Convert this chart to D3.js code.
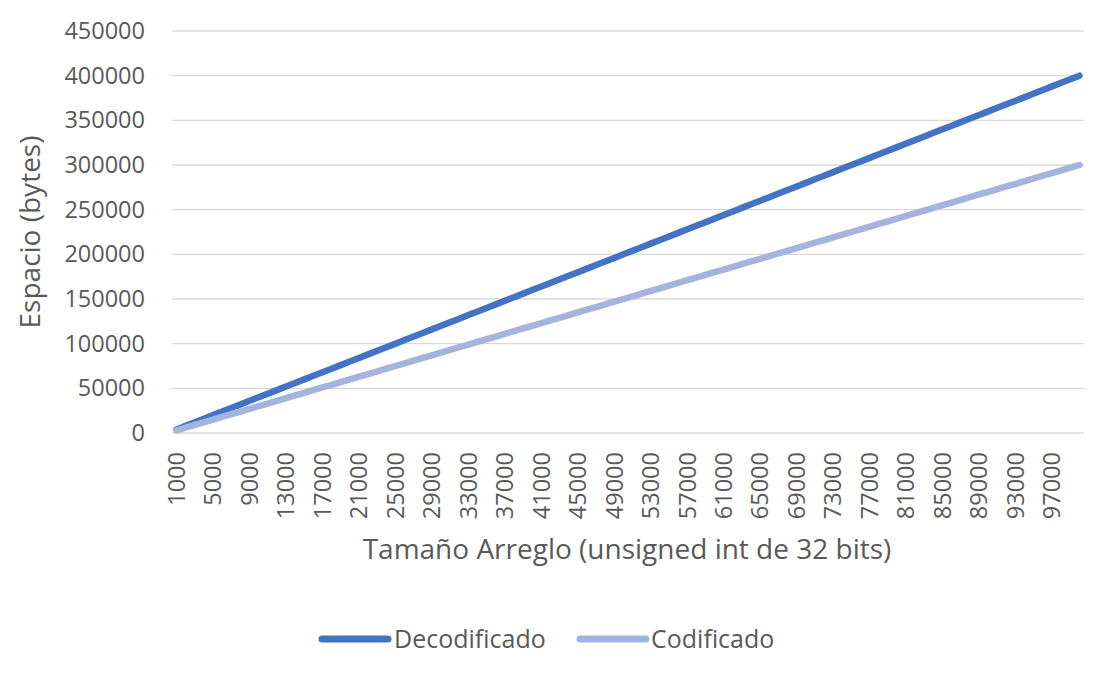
<!DOCTYPE html>
<html><head><meta charset="utf-8">
<script src="https://cdn.jsdelivr.net/npm/d3@7"></script>
<style>
html,body{margin:0;padding:0;background:#fff;}
svg{display:block;font-family:"Open Sans",sans-serif;}
</style></head>
<body>
<svg id="chart" width="1109" height="676"></svg>
<script>
const categories = [1000,2000,3000,4000,5000,6000,7000,8000,9000,10000,11000,12000,13000,14000,15000,16000,17000,18000,19000,20000,21000,22000,23000,24000,25000,26000,27000,28000,29000,30000,31000,32000,33000,34000,35000,36000,37000,38000,39000,40000,41000,42000,43000,44000,45000,46000,47000,48000,49000,50000,51000,52000,53000,54000,55000,56000,57000,58000,59000,60000,61000,62000,63000,64000,65000,66000,67000,68000,69000,70000,71000,72000,73000,74000,75000,76000,77000,78000,79000,80000,81000,82000,83000,84000,85000,86000,87000,88000,89000,90000,91000,92000,93000,94000,95000,96000,97000,98000,99000,100000];
const decodificado = [4000,8000,12000,16000,20000,24000,28000,32000,36000,40000,44000,48000,52000,56000,60000,64000,68000,72000,76000,80000,84000,88000,92000,96000,100000,104000,108000,112000,116000,120000,124000,128000,132000,136000,140000,144000,148000,152000,156000,160000,164000,168000,172000,176000,180000,184000,188000,192000,196000,200000,204000,208000,212000,216000,220000,224000,228000,232000,236000,240000,244000,248000,252000,256000,260000,264000,268000,272000,276000,280000,284000,288000,292000,296000,300000,304000,308000,312000,316000,320000,324000,328000,332000,336000,340000,344000,348000,352000,356000,360000,364000,368000,372000,376000,380000,384000,388000,392000,396000,400000];
const codificado = [3000,6000,9000,12000,15000,18000,21000,24000,27000,30000,33000,36000,39000,42000,45000,48000,51000,54000,57000,60000,63000,66000,69000,72000,75000,78000,81000,84000,87000,90000,93000,96000,99000,102000,105000,108000,111000,114000,117000,120000,123000,126000,129000,132000,135000,138000,141000,144000,147000,150000,153000,156000,159000,162000,165000,168000,171000,174000,177000,180000,183000,186000,189000,192000,195000,198000,201000,204000,207000,210000,213000,216000,219000,222000,225000,228000,231000,234000,237000,240000,243000,246000,249000,252000,255000,258000,261000,264000,267000,270000,273000,276000,279000,282000,285000,288000,291000,294000,297000,300000];
const xTickLabels = [1000,5000,9000,13000,17000,21000,25000,29000,33000,37000,41000,45000,49000,53000,57000,61000,65000,69000,73000,77000,81000,85000,89000,93000,97000];
const yTicks = [0,50000,100000,150000,200000,250000,300000,350000,400000,450000];
const seriesNames = ["Decodificado","Codificado"];
const colors = ["#4472C4","#A5B4DC"];

const svg = d3.select("#chart");
const L = 172, R = 1084, T = 31, B = 433;
const x = d3.scaleBand().domain(categories).range([L, R]).padding(0);
const y = d3.scaleLinear().domain([0, 450000]).range([B, T]);
const textColor = "#595959";

// gridlines
svg.append("g").selectAll("line").data(yTicks).join("line")
  .attr("x1", L).attr("x2", R)
  .attr("y1", d => y(d)).attr("y2", d => y(d))
  .attr("stroke", "#D9D9D9").attr("stroke-width", 1.3);

// y axis
const yAxis = svg.append("g").attr("transform", `translate(${L},0)`)
  .call(d3.axisLeft(y).tickValues(yTicks).tickSize(0).tickPadding(27).tickFormat(d3.format("d")));
yAxis.select(".domain").remove();
yAxis.selectAll("text").attr("fill", textColor).style("font-size", "23.5px").style("font-family", "'Open Sans',sans-serif");

// x axis
const xAxis = svg.append("g").attr("transform", `translate(0,${B})`)
  .call(d3.axisBottom(x).tickValues(xTickLabels).tickSize(0).tickFormat(d3.format("d")));
xAxis.select(".domain").remove();
xAxis.selectAll("text")
  .attr("fill", textColor).style("font-size", "23.5px").style("font-family", "'Open Sans',sans-serif")
  .attr("transform", "rotate(-90)")
  .attr("x", -19).attr("y", 0).attr("dy", "0.35em")
  .attr("text-anchor", "end");

// lines
const cx = d => x(d) + x.bandwidth() / 2;
[decodificado, codificado].forEach((vals, i) => {
  const line = d3.line().x((d, j) => cx(categories[j])).y(d => y(d));
  svg.append("path").datum(vals)
    .attr("d", line)
    .attr("fill", "none")
    .attr("stroke", colors[i])
    .attr("stroke-width", 6.5)
    .attr("stroke-linecap", "round")
    .attr("stroke-linejoin", "round");
});

// axis titles
svg.append("text").attr("x", 627).attr("y", 559).attr("text-anchor", "middle")
  .attr("fill", textColor).style("font-size", "28px")
  .text("Tamaño Arreglo (unsigned int de 32 bits)");
svg.append("text").attr("transform", `translate(40,${(T + B) / 2}) rotate(-90)`)
  .attr("text-anchor", "middle").attr("fill", textColor).style("font-size", "28px")
  .text("Espacio (bytes)");

// legend
const legendItems = [{x: 322, tx: 394}, {x: 580, tx: 651}];
seriesNames.forEach((name, i) => {
  const it = legendItems[i];
  svg.append("line").attr("x1", it.x).attr("x2", it.x + 66).attr("y1", 639).attr("y2", 639)
    .attr("stroke", colors[i]).attr("stroke-width", 7).attr("stroke-linecap", "round");
  svg.append("text").attr("x", it.tx).attr("y", 648).attr("fill", textColor)
    .style("font-size", "25px").text(name);
});
</script>
</body></html>
